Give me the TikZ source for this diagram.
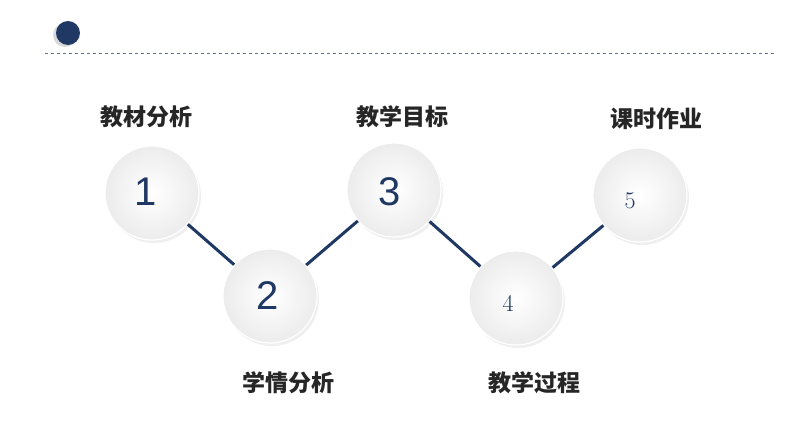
\documentclass[tikz,border=0pt]{standalone}
\usepackage{fontspec}
\newfontfamily\cjk{Noto Sans CJK SC}
\setsansfont{Liberation Sans}
\usetikzlibrary{shadows}
\definecolor{navy}{HTML}{1F3864}
\tikzset{x=1pt,y=-1pt,
 ball/.style={circle,minimum size=94pt,inner sep=0pt,draw=white,line width=1.2pt,
   inner color=white,outer color=gray!15,
   drop shadow={shadow xshift=2pt,shadow yshift=-3pt,opacity=0.2,fill=gray!60},text=navy},
 big/.style={font=\sffamily\fontsize{40}{40}\selectfont},
 small/.style={font=\rmfamily\fontsize{24}{24}\selectfont},
 lab/.style={font=\cjk\bfseries\fontsize{23}{23}\selectfont,text=black!85},
 link/.style={draw=navy,line width=3pt}}
\begin{document}
\begin{tikzpicture}
\useasboundingbox (0,0) rectangle (794,447);
\fill[white] (0,0) rectangle (794,447);
\node[circle,fill=navy,minimum size=24pt,inner sep=0pt,drop shadow={shadow xshift=-3pt,shadow yshift=-2pt,opacity=0.3}] (dot) at (68,33) {};
\coordinate (l0) at (45,53); \coordinate (l1) at (776,53);
\draw[navy!70,dashed,line width=0.8pt] (l0) -- (l1);
\node[ball] (c1) at (152,193) {};
\node[ball] (c2) at (270,296) {};
\node[ball] (c3) at (394,190) {};
\node[ball] (c4) at (516,298) {};
\node[ball] (c5) at (640,195) {};
\draw[link] (c1) -- (c2); \draw[link] (c2) -- (c3); \draw[link] (c3) -- (c4); \draw[link] (c4) -- (c5);
\node[big,text=navy] (n1) at (146,192) {1};
\node[big,text=navy] (n2) at (268,296) {2};
\node[big,text=navy] (n3) at (390,192) {3};
\node[small,text=navy] (n4) at (508,303) {4};
\node[small,text=navy] (n5) at (630,201) {5};
\node[lab] (t1) at (146,117) {教材分析};
\node[lab] (t2) at (288,383) {学情分析};
\node[lab] (t3) at (402,117) {教学目标};
\node[lab] (t4) at (534,383) {教学过程};
\node[lab] (t5) at (656,119) {课时作业};
\end{tikzpicture}
\end{document}
